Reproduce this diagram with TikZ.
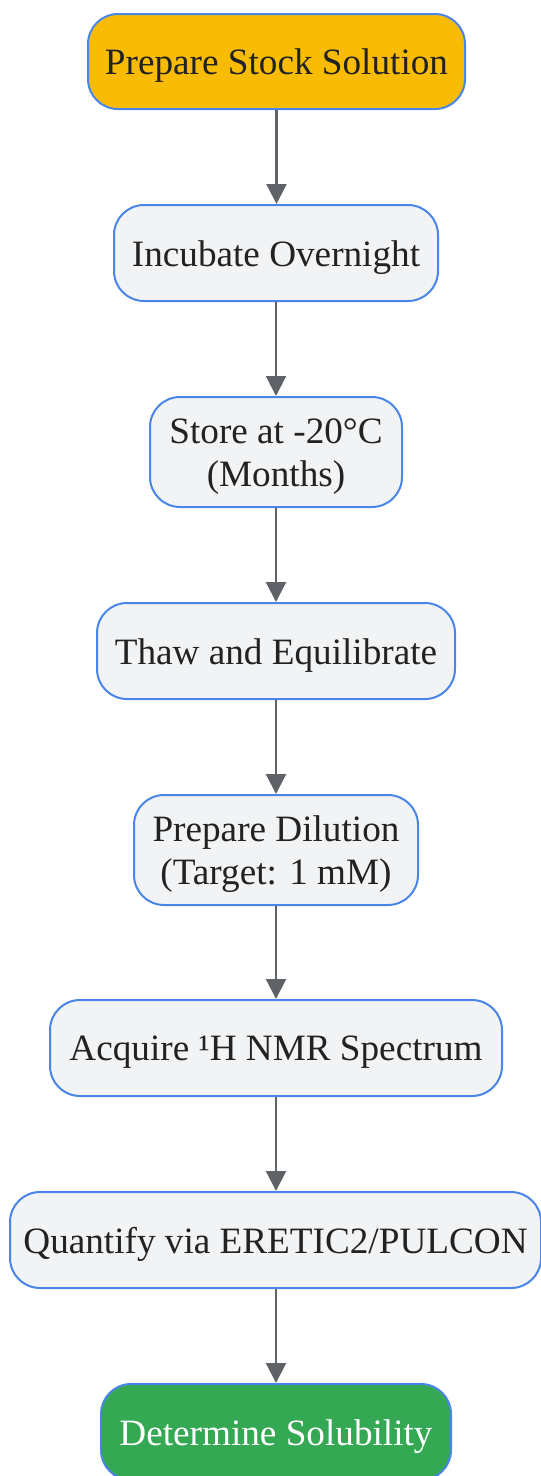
\documentclass[tikz,border=0pt]{standalone}
\usepackage{fontspec}
\setmainfont{Liberation Serif}
\usetikzlibrary{arrows.meta}
\definecolor{bordblue}{HTML}{4A86E8}
\definecolor{lightfill}{HTML}{F1F3F4}
\definecolor{startfill}{HTML}{F9BC06}
\definecolor{endfill}{HTML}{34A853}
\definecolor{txt}{HTML}{222222}
\definecolor{arr}{HTML}{5F6368}
\begin{document}
\begin{tikzpicture}[x=1pt,y=-1pt,
  box/.style={draw=bordblue,line width=2pt,rounded corners=30pt,fill=lightfill,inner sep=0pt},
  lbl/.style={text=txt,inner sep=0pt,align=center,font=\fontsize{37.2}{43}\selectfont,yshift=-4.5pt},
  flow/.style={draw=arr,line width=2.2pt,-{Triangle[length=20pt,width=20pt]}}]
\useasboundingbox (0,0) rectangle (541,1476);
\node[box,fill=startfill,minimum width=377pt,minimum height=95pt] (n1) at (276.5,61.5) {};
\node[lbl] (t1) at (n1.center) {Prepare Stock Solution};
\node[box,minimum width=324pt,minimum height=96pt] (n2) at (276,253) {};
\node[lbl] (t2) at (n2.center) {Incubate Overnight};
\node[box,minimum width=252pt,minimum height=110pt] (n3) at (276,452) {};
\node[lbl] (t3) at (n3.center) {Store at -20°C\\(Months)};
\node[box,minimum width=358pt,minimum height=96pt] (n4) at (276,651) {};
\node[lbl] (t4) at (n4.center) {Thaw and Equilibrate};
\node[box,minimum width=284pt,minimum height=110pt] (n5) at (276,850) {};
\node[lbl] (t5) at (n5.center) {Prepare Dilution\\(Target: 1 mM)};
\node[box,minimum width=452pt,minimum height=96pt] (n6) at (276,1048) {};
\node[lbl] (t6) at (n6.center) {Acquire ¹H NMR Spectrum};
\node[box,minimum width=531pt,minimum height=96pt] (n7) at (275.5,1240) {};
\node[lbl] (t7) at (n7.center) {Quantify via ERETIC2/PULCON};
\node[box,fill=endfill,minimum width=350pt,minimum height=96pt] (n8) at (276,1432) {};
\node[lbl,text=white] (t8) at (n8.center) {Determine Solubility};
\draw[flow] (n1.south) -- (n1.south |- n2.north);
\draw[flow] (n2.south) -- (n2.south |- n3.north);
\draw[flow] (n3.south) -- (n3.south |- n4.north);
\draw[flow] (n4.south) -- (n4.south |- n5.north);
\draw[flow] (n5.south) -- (n5.south |- n6.north);
\draw[flow] (n6.south) -- (n6.south |- n7.north);
\draw[flow] (n6.south |- n7.south) -- (n6.south |- n8.north);
\end{tikzpicture}
\end{document}
